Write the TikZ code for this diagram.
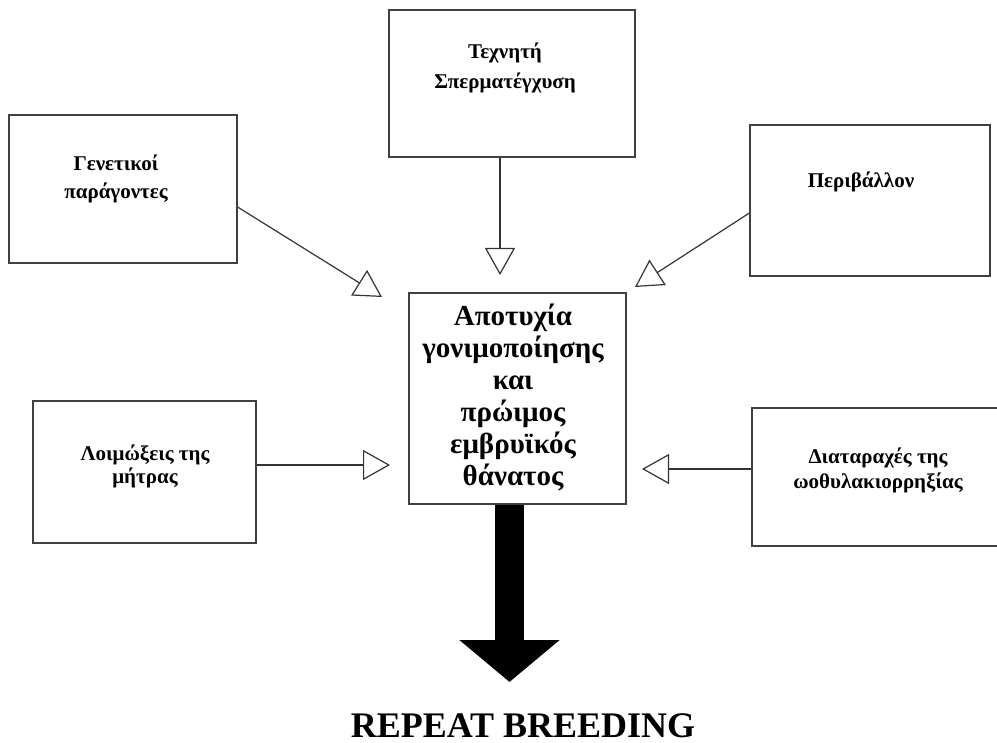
\documentclass[tikz,border=0pt]{standalone}
\usepackage{fontspec}
\setmainfont{Liberation Serif}
\usetikzlibrary{arrows.meta}

\begin{document}
\begin{tikzpicture}[x=0.5pt, y=-0.5pt,
	box/.style={draw=black!75, line width=0.9pt, inner sep=0pt},
	txt/.style={align=center, font=\bfseries\fontsize{10.5}{14}\selectfont},
	feed/.style={draw=black!80, line width=0.6pt, -{Triangle[open, length=13.5pt, width=15pt]}}]
\useasboundingbox (0,0) rectangle (997,743);
\clip (0,0) rectangle (997,743);

\node[box, minimum width=123pt, minimum height=73.5pt] (insem) at (512,83.5) {};
\node[box, minimum width=114pt, minimum height=74pt] (gen) at (123,189) {};
\node[box, minimum width=120pt, minimum height=75.5pt] (env) at (870,200.5) {};
\node[box, minimum width=108.5pt, minimum height=105.5pt] (fail) at (517.5,398.5) {};
\node[box, minimum width=111.5pt, minimum height=71pt] (inf) at (144.5,472) {};
\node[box, minimum width=126.5pt, minimum height=69pt] (ovu) at (878.5,477) {};

\node[txt, font=\bfseries\fontsize{10.5}{15}\selectfont] (insemtext) at (505,68) {Τεχνητή\\Σπερματέγχυση};
\node[txt] (gentext) at (116,179) {Γενετικοί\\παράγοντες};
\node[txt] (envtext) at (861,182) {Περιβάλλον};
\node[txt, font=\bfseries\fontsize{14.5}{16}\selectfont] (failtext) at (513,397.5) {Αποτυχία\\γονιμοποίησης\\και\\πρώιμος\\εμβρυϊκός\\θάνατος};
\node[txt, font=\bfseries\fontsize{10.5}{11.5}\selectfont] (inftext) at (145,466.5) {Λοιμώξεις της\\μήτρας};
\node[txt, font=\bfseries\fontsize{10.5}{12.5}\selectfont] (ovutext) at (878,470.5) {Διαταραχές της\\ωοθυλακιορρηξίας};

\coordinate (gentip) at (382,297);
\coordinate (insemtip) at (500,275);
\coordinate (envtip) at (635,287);
\coordinate (inftip) at (390,465);
\coordinate (ovutip) at (642,469);
\coordinate (repeattip) at (509.5,682);

\draw[feed] (gen.-9.5) -- (gentip);
\draw[feed] (insem.south -| insemtip) -- (insemtip);
\draw[feed] (env.186) -- (envtip);
\draw[feed] (inf.east |- inftip) -- (inftip);
\draw[feed] (ovu.west |- ovutip) -- (ovutip);

\draw[line width=14.5pt, -{Triangle[length=21pt, width=49pt]}] (fail.south -| repeattip) -- (repeattip);
\node[anchor=base, font=\bfseries\fontsize{18}{20}\selectfont] (repeat) at (523,737) {REPEAT BREEDING};

\end{tikzpicture}
\end{document}
